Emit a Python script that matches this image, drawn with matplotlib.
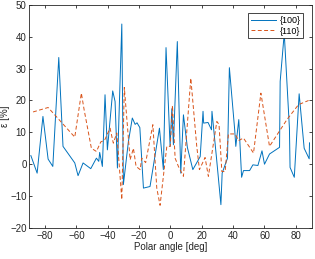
import numpy as np
import matplotlib
matplotlib.use('Agg')
import matplotlib.pyplot as plt

# {100} series
x100 = [-89, -85, -81.3, -78, -75, -71.2, -68.5, -61, -58.9, -55.7, -50.8, -47.2, -45.7, -45.1,
        -43.4, -41.7, -40.2, -36.8, -35.3, -33.8, -31, -30, -26.8, -24.3, -22.5, -21.3, -19.5,
        -17.2, -13, -7, -4.5, -2.8, -0.2, 0.9, 1.9, 4.4, 6.6, 8.3, 10.8, 14.3, 19, 20.8, 21.2,
        24, 26.2, 26.5, 29.4, 32.2, 33, 36.4, 37.6, 41, 41.7, 43.6, 45.4, 46.6, 50.5, 52.6, 55.8,
        58.4, 60, 63.2, 69.6, 70, 72.6, 75.9, 76.3, 79, 82.1, 85.3, 88.5, 88.7]
y100 = [2.7, -2.8, 15, 1.6, -0.7, 33.5, 5.6, 0.4, -3.6, 0.4, -1.4, 1.9, 0.9, 3.7,
        -0.7, 21.8, 4.5, 23, 19.7, -1.2, 44, -6.4, 7.1, 14.5, 12.5, 13, 11.5,
        -7.5, -7, 11.3, -1.7, 36.6, 5.6, 17.4, 6.1, 38.5, -2.8, 15.5, 5.3, -1.7, 2.4, 16.6, 12.9,
        13.1, 10.8, 16.6, 1.9, -12.7, -2.8, 1.9, 30.3, 10.8, 5.6, 14, -4.1, -2, -2, -0.2, -0.4,
        4.2, 0, 3.2, 5.3, 26, 41.1, 11.3, -1, -4.1, 22.1, 5, 1.7, 6.7]

# {110} series
x110 = [-87.6, -78, -61, -56.8, -55, -50.4, -47.2, -44.4, -42, -38.5, -36.4, -34.2, -31, -29.4,
        -25.7, -23.6, -21.9, -19.3, -18.3, -15.8, -11.2, -8.7, -6.6, -2.3, -0.1, 1.3, 3, 5.1,
        8.3, 13, 16.8, 18.5, 22.1, 24.2, 29.6, 31, 32.8, 34.9, 37, 41.3, 43.4, 46.6, 53, 57.7,
        63.2, 74.3, 81.7, 88.1]
y110 = [16.4, 17.8, 8.5, 22.3, 17, 5, 4, 7, 7.5, 11.3, 6.6, 9.8, -11.1, 24.1,
        1.4, 5, -0.7, -1.7, 1.9, 0.5, 12.4, -7.5, -12.9, 5.6, 5.6, 18.4, 1.9, -0.7,
        -3.8, 27, 5.6, -1.7, 2.1, -3.8, 13.4, 12.5, -2.3, -2.3, 9.5, 9.5, 7.4, 8.2, 3.5, 22.3,
        5.6, 14, 18.7, 20]

xticks = [-80, -60, -40, -20, 0, 20, 40, 60, 80]
yticks = [-20, -10, 0, 10, 20, 30, 40, 50]

plt.rcParams['font.family'] = ['Liberation Sans', 'DejaVu Sans']
plt.rcParams['font.size'] = 7

fig = plt.figure(figsize=(3.15, 2.59), dpi=100)
ax = fig.add_axes([0.093, 0.12, 0.896, 0.861])

ax.plot(x100, y100, color='#0072BD', lw=0.7, label='{100}')
ax.plot(x110, y110, color='#D95319', lw=0.7, ls=(0, (4, 2.5)), label='{110}')

ax.set_xlim(-90, 90)
ax.set_ylim(-20, 50)
ax.set_xticks(xticks)
ax.set_yticks(yticks)
ax.tick_params(direction='in', top=True, right=True, length=2.5, width=0.6,
               colors='#262626', labelsize=7, pad=2)
for s in ax.spines.values():
    s.set_color('#262626')
    s.set_linewidth(0.6)

ax.set_xlabel('Polar angle [deg]', fontsize=7, color='#262626', labelpad=1)
ax.set_ylabel('ε [%]', fontsize=7, color='#262626', labelpad=0)

leg = ax.legend(loc='upper right', fontsize=6.5, fancybox=False, framealpha=1,
                edgecolor='#262626', handlelength=2.8, borderpad=0.3,
                labelspacing=0.2, handletextpad=0.4, borderaxespad=0.9)
leg.get_frame().set_linewidth(0.6)

fig.savefig('out.png', dpi=100)
